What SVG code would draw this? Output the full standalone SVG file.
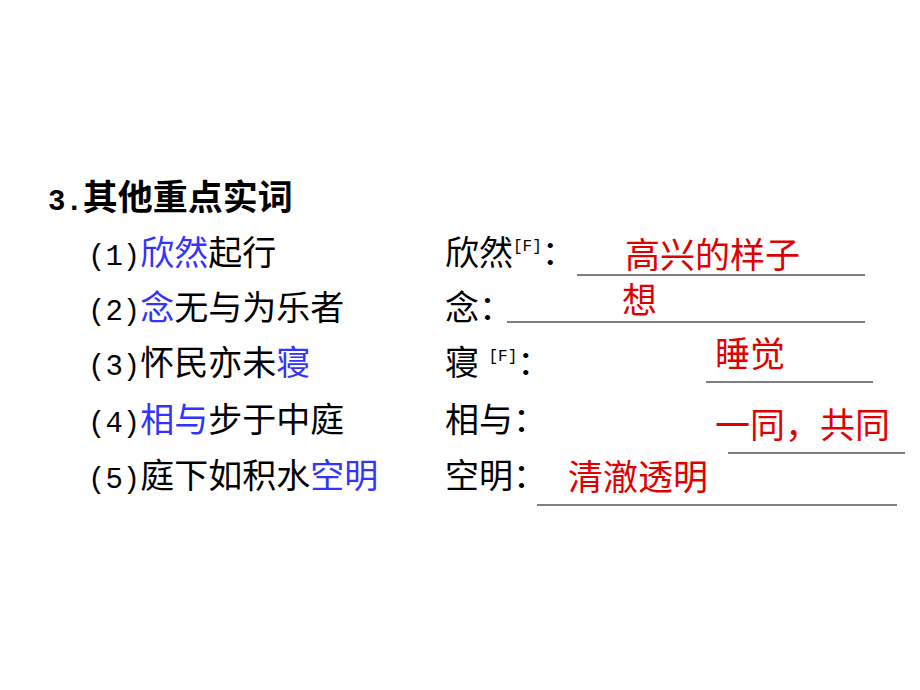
<svg xmlns="http://www.w3.org/2000/svg" width="920" height="690" viewBox="0 0 920 690">
<style>
text{font-family:"Liberation Sans","Noto Sans CJK SC",sans-serif;font-size:34px;fill:#000}
.m{font-family:"Liberation Mono","DejaVu Sans Mono",monospace;font-size:29px}
.t{font-weight:bold;font-size:35px}
.b{fill:#3333ff}
.r{fill:#e00000;font-size:35px}
.s{font-family:"Liberation Mono",monospace;font-size:16px}
line{stroke:#000;stroke-width:1.2}
</style>
<rect width="920" height="690" fill="#fff"/>
<text class="t" x="48" y="210"><tspan class="m" font-weight="bold">3.</tspan>其他重点实词</text>
<g id="row1"><text x="88" y="265"><tspan class="m">(1)</tspan><tspan class="b">欣然</tspan>起行</text><text x="445" y="265">欣然<tspan class="s" dy="-14">[F]</tspan><tspan dy="14">：</tspan></text><line x1="577" y1="275" x2="865" y2="275"/><text class="r" x="625" y="268">高兴的样子</text></g>
<g id="row2"><text x="88" y="320"><tspan class="m">(2)</tspan><tspan class="b">念</tspan>无与为乐者</text><text x="445" y="320">念：</text><line x1="507" y1="322" x2="865" y2="322"/><text class="r" x="622" y="313">想</text></g>
<g id="row3"><text x="88" y="375"><tspan class="m">(3)</tspan>怀民亦未<tspan class="b">寝</tspan></text><text x="445" y="375">寝 <tspan class="s" dy="-14">[F]</tspan><tspan dy="14">：</tspan></text><line x1="706" y1="382" x2="873" y2="382"/><text class="r" x="715" y="367">睡觉</text></g>
<g id="row4"><text x="88" y="432"><tspan class="m">(4)</tspan><tspan class="b">相与</tspan>步于中庭</text><text x="445" y="432">相与：</text><line x1="728" y1="453" x2="905" y2="453"/><text class="r" x="715" y="438">一同，共同</text></g>
<g id="row5"><text x="88" y="488"><tspan class="m">(5)</tspan>庭下如积水<tspan class="b">空明</tspan></text><text x="445" y="488">空明：</text><line x1="537" y1="505" x2="897" y2="505"/><text class="r" x="568" y="490">清澈透明</text></g>
</svg>
